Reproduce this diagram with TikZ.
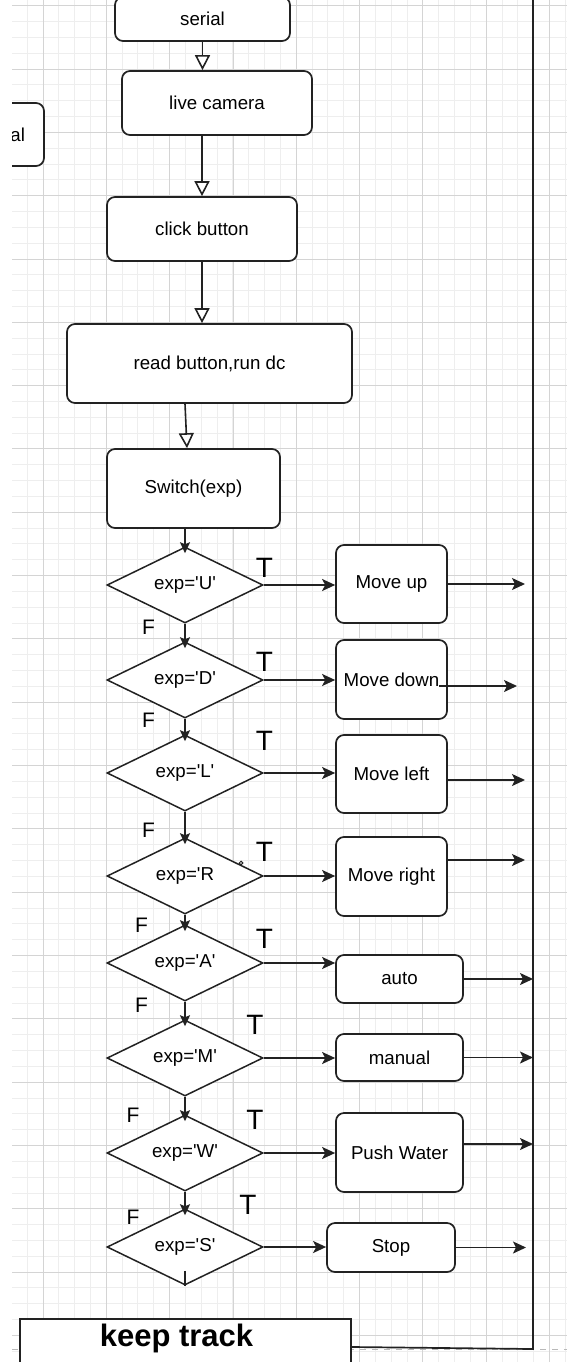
\documentclass[tikz,border=0pt]{standalone}
\usepackage{fontspec}
\setmainfont{Liberation Sans}[Ligatures=TeXOff]
\usetikzlibrary{shapes.geometric,arrows.meta,calc}
\definecolor{gridminor}{RGB}{238,238,238}
\definecolor{gridmajor}{RGB}{212,212,212}
\definecolor{ink}{RGB}{34,34,34}

\begin{document}
\begin{tikzpicture}[
	x=1pt, y=-1pt,
	box/.style={ draw=ink, line width=1.7pt, rounded corners=8pt, fill=white, inner sep=0pt, font=\fontsize{18.7}{22}\selectfont },
	decision/.style={ diamond, draw=ink, line width=1.5pt, fill=white, inner sep=0pt, aspect=2, minimum width=156pt, minimum height=76pt, font=\fontsize{18.7}{22}\selectfont },
	wire/.style={ draw=ink, line width=1.6pt },
	flow/.style={ wire, -{Triangle[open,fill=white,length=15pt,width=15pt]} },
	branch/.style={ wire, -{Stealth[length=11pt,width=10pt,inset=2pt]} },
	take/.style={ wire, -{Stealth[length=13pt,width=12pt,inset=3pt]} },
	tmark/.style={ inner sep=0pt, font=\fontsize{28}{30}\selectfont },
	fmark/.style={ inner sep=0pt, font=\fontsize{21}{24}\selectfont }
]

\useasboundingbox (0,0) rectangle (567,1362);
\clip (12,0) rectangle (567,1362);

\foreach \i in {0,...,35}
	\draw[gridminor, line width=0.9pt] ({11.3+15.83*\i},0) to ({11.3+15.83*\i},1362);
\foreach \i in {0,...,85}
	\draw[gridminor, line width=0.9pt] (12,{5.7+15.83*\i}) to (567,{5.7+15.83*\i});
\foreach \i in {0,...,8}
	\draw[gridmajor, line width=0.9pt] ({43+63.32*\i},0) to ({43+63.32*\i},1362);
\foreach \i in {0,...,21}
	\draw[gridmajor, line width=0.9pt] (12,{5.7+63.32*\i}) to (567,{5.7+63.32*\i});

\draw[gray!55, line width=1pt, dash pattern=on 6pt off 6pt] (12,1349) to (567,1349);

\coordinate (bustop) at (533,-5);
\coordinate (busfoot) at (533,1349);
\coordinate (tipend) at (525,0);
\coordinate (stopend) at (526,0);

\begin{scope}
	\node[box, minimum width=175pt, minimum height=44pt] at (202.5,19) (serial) {serial};
	\node[box, minimum width=190pt, minimum height=64pt] at (217,103) (camera) {live camera};
	\node[box, minimum height=63pt, text width=120pt, align=right] at (-16,134.5) (serialside) {al\rule{19pt}{0pt}};
	\node[box, minimum width=190pt, minimum height=64pt] at (202,229) (click) {click button};
	\node[box, minimum width=285pt, minimum height=79pt] at (209.5,363.5) (read) {read button,run dc};
	\node[box, minimum width=173pt, minimum height=79pt] at (193.5,488.5) (switch) {Switch(exp)};
\end{scope}

\begin{scope}
	\node[decision] at (185,585) (isU) {exp='U'};
	\node[decision] at (185,680) (isD) {exp='D'};
	\node[decision] at (185,773) (isL) {exp='L'};
	\node[decision] at (185,876) (isR) {exp='R};
	\node[decision] at (185,963) (isA) {exp='A'};
	\node[decision] at (185,1058) (isM) {exp='M'};
	\node[decision] at (185,1153) (isW) {exp='W'};
	\node[decision] at (185,1247) (isS) {exp='S'};
\end{scope}

\begin{scope}[every node/.append style={rounded corners=10pt}]
	\node[box, minimum width=111pt, minimum height=78pt] at (391.5,584) (mvup) {Move up};
	\node[box, minimum width=111pt, minimum height=79pt] at (391.5,679.5) (mvdown) {Move down};
	\node[box, minimum width=111pt, minimum height=78pt] at (391.5,774) (mvleft) {Move left};
	\node[box, minimum width=111pt, minimum height=79pt] at (391.5,876.5) (mvright) {Move right};
	\node[box, minimum width=127pt, minimum height=48pt] at (399.5,979) (autobox) {auto};
	\node[box, minimum width=127pt, minimum height=47pt] at (399.5,1057.5) (manualbox) {manual};
	\node[box, minimum width=127pt, minimum height=79pt] at (399.5,1152.5) (waterbox) {Push Water};
	\node[box, minimum width=128pt, minimum height=49pt] at (391,1247.5) (stopbox) {Stop};
\end{scope}

\node[draw=ink, line width=2pt, fill=white, anchor=north, minimum width=331pt, inner ysep=5pt, text depth=50pt, font=\fontsize{31}{34}\selectfont\bfseries] at (185.5,1318) (keep) {\hspace*{-18pt}keep track};

\draw[flow] (serial.south) to (serial.south |- camera.north);
\draw[flow] (click.north |- camera.south) to (click.north);
\draw[flow] (click.south) to (click.south |- read.north);
\draw[flow] ([xshift=-24.5pt]read.south) to ([xshift=-6.5pt]switch.north);

\draw[branch] (isU.north |- switch.south) to ([yshift=-7pt]isU.north);
\foreach \a/\b in {isU/isD, isD/isL, isL/isR, isR/isA, isA/isM, isM/isW, isW/isS}
	\draw[branch] (\a.south) to ([yshift=-7pt]\b.north);
\foreach \d/\b in {isU/mvup, isD/mvdown, isL/mvleft, isR/mvright, isA/autobox, isM/manualbox, isW/waterbox, isS/stopbox}
	\draw[take] (\d.east) to (\d.east -| \b.west);
\draw[wire] ([yshift=15pt]isS.south) to (isS.south);
\draw[ink, line width=1pt] (241,863) circle (1.8pt);

\coordinate (downout) at ($(mvdown.east)+(-9,6.5)$);
\coordinate (leftout) at ($(mvleft.east)+(0,6)$);
\coordinate (rightout) at ($(mvright.east)+(0,-16.5)$);
\coordinate (waterout) at ($(waterbox.east)+(0,-8.5)$);
\draw[take] (mvup.east) to (mvup.east -| tipend);
\draw[take] (downout) to ($(downout -| tipend)+(-8,0)$);
\draw[take] (leftout) to (leftout -| tipend);
\draw[take] (rightout) to (rightout -| tipend);
\draw[take] (autobox.east) to (autobox.east -| bustop);
\draw[take] (manualbox.east) to (manualbox.east -| bustop);
\draw[take] (waterout) to (waterout -| bustop);
\draw[take] (stopbox.east) to (stopbox.east -| stopend);

\draw[wire, line width=1.7pt] ([yshift=-29pt]keep.north east) to (busfoot) to (bustop);

\node[tmark] at (264.5,568) (tU) {T};
\node[tmark] at (264.5,662) (tD) {T};
\node[tmark] at (264.5,741) (tL) {T};
\node[tmark] at (264.5,852) (tR) {T};
\node[tmark] at (264.5,939) (tA) {T};
\node[tmark] at (255,1025) (tM) {T};
\node[tmark] at (255,1120) (tW) {T};
\node[tmark] at (248,1205) (tS) {T};
\node[fmark] at (148.5,627) (fU) {F};
\node[fmark] at (148.5,720) (fD) {F};
\node[fmark] at (148.5,830) (fL) {F};
\node[fmark] at (141.5,925) (fR) {F};
\node[fmark] at (141.5,1005) (fA) {F};
\node[fmark] at (133,1115) (fM) {F};
\node[fmark] at (133,1217) (fW) {F};

\end{tikzpicture}
\end{document}
